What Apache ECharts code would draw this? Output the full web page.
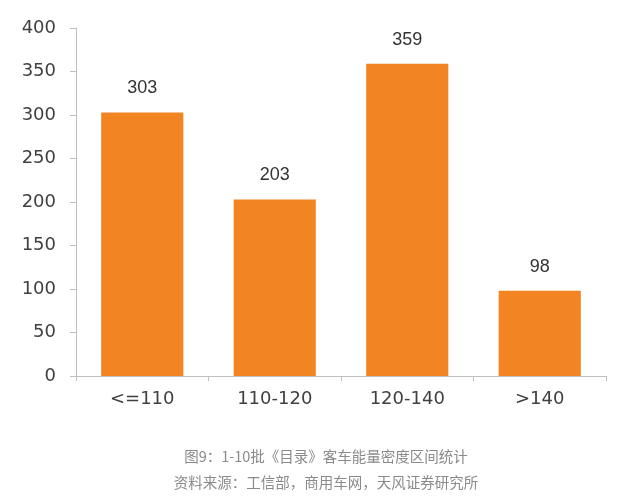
<!DOCTYPE html>
<html><head><meta charset="utf-8">
<script src="https://cdn.jsdelivr.net/npm/echarts@6/dist/echarts.min.js"></script>
<style>html,body{margin:0;padding:0;background:#fff}#c{width:632px;height:500px}</style>
</head><body><div id="c"></div>
<script>
var categories = ['<=110', '110-120', '120-140', '>140'];
var values = [303, 203, 359, 98];
var yTicks = [0, 50, 100, 150, 200, 250, 300, 350, 400];
var captionLine1 = '图9：1-10批《目录》客车能量密度区间统计';
var captionLine2 = '资料来源：工信部，商用车网，天风证券研究所';

var chart = echarts.init(document.getElementById('c'));
chart.setOption({
  backgroundColor: '#fff',
  animation: false,
  graphic: [
    {type: 'text', x: 326, y: 456, style: {text: captionLine1, align: 'center', verticalAlign: 'middle', fontSize: 14.5, fill: '#8a8a8a', fontFamily: 'Noto Sans CJK SC'}},
    {type: 'text', x: 326, y: 482, style: {text: captionLine2, align: 'center', verticalAlign: 'middle', fontSize: 14.5, fill: '#8a8a8a', fontFamily: 'Noto Sans CJK SC'}}
  ],
  grid: {left: 76, right: 26, top: 28, bottom: 124, containLabel: false},
  xAxis: {
    type: 'category', data: categories,
    axisLine: {lineStyle: {color: '#bfbfbf', width: 1}},
    axisTick: {show: true, length: 5, lineStyle: {color: '#bfbfbf'}},
    axisLabel: {fontSize: 18, color: '#404040', margin: 14, fontFamily: 'DejaVu Sans'}
  },
  yAxis: {
    type: 'value', min: yTicks[0], max: yTicks[yTicks.length - 1], interval: 50,
    axisLine: {show: true, lineStyle: {color: '#bfbfbf', width: 1}},
    axisTick: {show: true, length: 6, inside: false, lineStyle: {color: '#bfbfbf'}},
    splitLine: {show: false},
    axisLabel: {fontSize: 18, color: '#404040', margin: 20, fontFamily: 'DejaVu Sans'}
  },
  series: [{
    type: 'bar', data: values, barWidth: '62%',
    itemStyle: {color: '#F28522'},
    label: {show: true, position: 'top', distance: 15, fontSize: 18, color: '#333', fontFamily: 'Liberation Sans'}
  }]
});
</script></body></html>
